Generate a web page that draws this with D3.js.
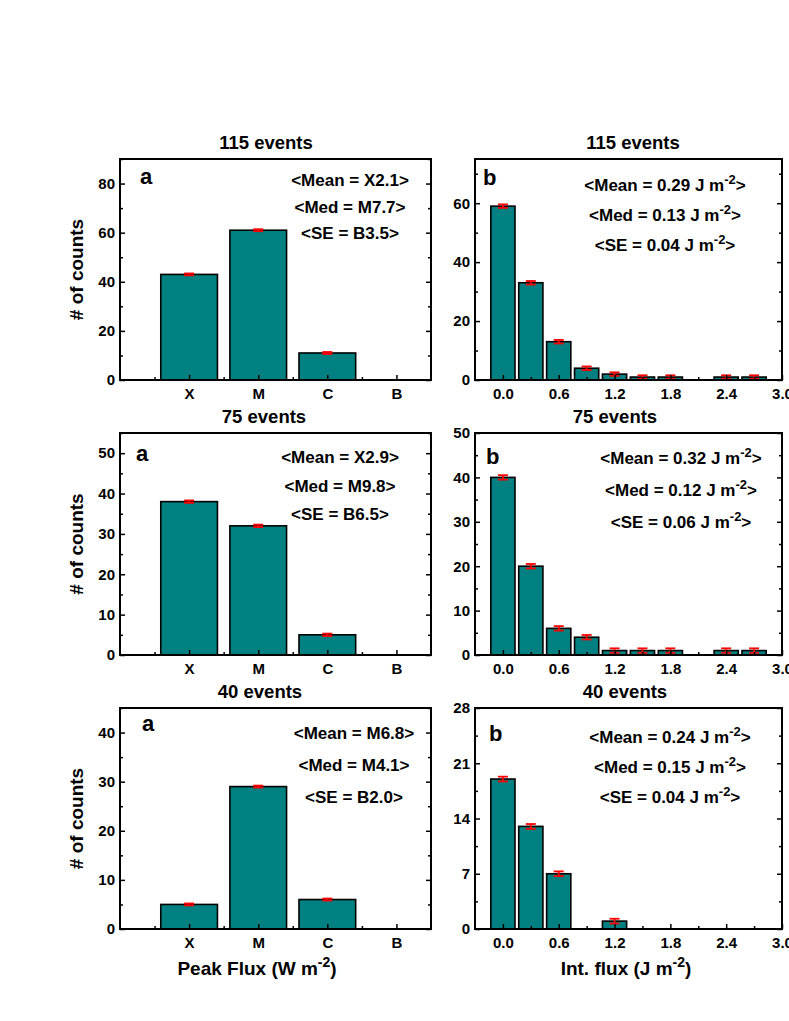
<!DOCTYPE html>
<html>
<head>
<meta charset="utf-8">
<script src="https://cdn.jsdelivr.net/npm/d3@7"></script>
<style>
  body { margin: 0; background: #fff; }
  text { font-family: "Liberation Sans", Arial, sans-serif; font-weight: bold; fill: #000; }
</style>
</head>
<body>
<svg id="chart" width="789" height="1021"></svg>
<script>
'use strict';

// ---- data ----
const eventLabels = ['115 events', '75 events', '40 events'];

const peakCats = ['X', 'M', 'C', 'B'];
const peak115 = [43, 61, 11, 0];
const peak75 = [38, 32, 5, 0];
const peak40 = [5, 29, 6, 0];
const peakErr115 = [0.4, 0.4, 0.4, 0];
const peakErr75 = [0.3, 0.3, 0.3, 0];
const peakErr40 = [0.2, 0.2, 0.2, 0];
const peakMax = [90, 55, 45];
const peakStep = [20, 10, 10];
const peakStats = [
  ['X2.1', 'M7.7', 'B3.5'],
  ['X2.9', 'M9.8', 'B6.5'],
  ['M6.8', 'M4.1', 'B2.0'],
];

const intBins = [0.0, 0.3, 0.6, 0.9, 1.2, 1.5, 1.8, 2.1, 2.4, 2.7];
const int115 = [59, 33, 13, 4, 2, 1, 1, 0, 1, 1];
const int75 = [40, 20, 6, 4, 1, 1, 1, 0, 1, 1];
const int40 = [19, 13, 7, 0, 1, 0, 0, 0, 0, 0];
const intErr115 = [0.6, 0.6, 0.6, 0.6, 0.6, 0.6, 0.6, 0, 0.6, 0.6];
const intErr75 = [0.5, 0.5, 0.5, 0.5, 0.5, 0.5, 0.5, 0, 0.5, 0.5];
const intErr40 = [0.3, 0.3, 0.3, 0, 0.3, 0, 0, 0, 0, 0];
const intMax = [75, 50, 28];
const intStep = [20, 10, 7];
const intTicks = [0.0, 0.6, 1.2, 1.8, 2.4, 3.0];
const intMinor = [0.3, 0.9, 1.5, 2.1, 2.7];
const intStats = [
  ['0.29', '0.13', '0.04'],
  ['0.32', '0.12', '0.06'],
  ['0.24', '0.15', '0.04'],
];

// ---- layout ----
const rows = [
  { top: 159, bottom: 380 },
  { top: 433, bottom: 655 },
  { top: 708, bottom: 929 },
];
const cols = [
  { left: 120, right: 431 },
  { left: 475, right: 782 },
];
const leftTitleX = [266, 264, 260];
const rightTitleX = [633, 615, 625];
const leftAnn = [
  { x: 350, y: 186, dy: 26.5 },
  { x: 340, y: 463, dy: 28.5 },
  { x: 354, y: 739, dy: 32 },
];
const rightAnn = [
  { x: 665, y: 191, dy: 30 },
  { x: 681, y: 464, dy: 32 },
  { x: 670, y: 743, dy: 30 },
];
const letterPos = [
  [{ x: 140, y: 184 }, { x: 483, y: 185 }],
  [{ x: 136, y: 461 }, { x: 486, y: 464 }],
  [{ x: 142, y: 731 }, { x: 489, y: 741 }],
];

const teal = '#008080';
const svg = d3.select('#chart');

svg.append('rect').attr('width', 789).attr('height', 1021).attr('fill', '#fff');

function halfSteps(max, step) {
  const out = [];
  for (let v = step / 2; v <= max + 1e-9; v += step) out.push(v);
  return out;
}

function styleAxis(g) {
  g.select('.domain').remove();
  g.selectAll('line').attr('stroke', '#000').attr('stroke-width', 1.5);
  g.selectAll('text')
    .style('font-size', '15px')
    .style('font-family', '"Liberation Sans", Arial, sans-serif')
    .style('font-weight', 'bold');
}

function drawPanel(conf) {
  const { col, row, x, y, bars, errs, barWidth } = conf;
  const g = svg.append('g');

  // bars
  g.selectAll('.bar')
    .data(bars.filter(d => d.v > 0))
    .enter()
    .append('rect')
    .attr('class', 'bar')
    .attr('x', d => x(d.k) - (x(barWidth) - x(0)) / 2)
    .attr('width', x(barWidth) - x(0))
    .attr('y', d => y(d.v))
    .attr('height', d => y(0) - y(d.v))
    .attr('fill', teal)
    .attr('stroke', '#000')
    .attr('stroke-width', 1.6);

  // error bars
  const eb = g.selectAll('.err')
    .data(bars.map((d, i) => ({ ...d, e: errs[i] })).filter(d => d.v > 0 && d.e > 0))
    .enter()
    .append('g')
    .attr('class', 'err')
    .attr('stroke', '#ff0000')
    .attr('stroke-width', 1.8);
  eb.append('line')
    .attr('x1', d => x(d.k)).attr('x2', d => x(d.k))
    .attr('y1', d => y(d.v - d.e)).attr('y2', d => y(d.v + d.e));
  [-1, 1].forEach(s => {
    eb.append('line')
      .attr('x1', d => x(d.k) - 5).attr('x2', d => x(d.k) + 5)
      .attr('y1', d => y(d.v + s * d.e)).attr('y2', d => y(d.v + s * d.e));
  });

  // axes
  const bottom = g.append('g').attr('transform', `translate(0,${row.bottom})`);
  bottom.append('g')
    .call(d3.axisBottom(x).tickValues(conf.xTicks).tickFormat(conf.xFormat).tickSize(-5).tickPadding(8))
    .call(styleAxis);
  bottom.append('g')
    .call(d3.axisBottom(x).tickValues(conf.xMinor).tickFormat('').tickSize(-3))
    .call(styleAxis);

  const left = g.append('g').attr('transform', `translate(${col.left},0)`);
  left.append('g')
    .call(d3.axisLeft(y).tickValues(conf.yTicks).tickFormat(d3.format('d')).tickSize(-5).tickPadding(5))
    .call(styleAxis);
  left.append('g')
    .call(d3.axisLeft(y).tickValues(conf.yMinor).tickFormat('').tickSize(-3))
    .call(styleAxis);

  const right = g.append('g').attr('transform', `translate(${col.right},0)`);
  right.append('g')
    .call(d3.axisRight(y).tickValues(conf.yTicks).tickFormat('').tickSize(-5))
    .call(styleAxis);
  right.append('g')
    .call(d3.axisRight(y).tickValues(conf.yMinor).tickFormat('').tickSize(-3))
    .call(styleAxis);

  // frame
  g.append('rect')
    .attr('x', col.left)
    .attr('y', row.top)
    .attr('width', col.right - col.left)
    .attr('height', row.bottom - row.top)
    .attr('fill', 'none')
    .attr('stroke', '#000')
    .attr('stroke-width', 2);

  // title
  g.append('text')
    .attr('x', conf.titleX)
    .attr('y', row.top - 10)
    .attr('text-anchor', 'middle')
    .style('font-size', '18.5px')
    .text(conf.title);

  // panel letter
  g.append('text')
    .attr('x', conf.letter.x)
    .attr('y', conf.letter.y)
    .style('font-size', '22px')
    .text(conf.letterText);

  // stats annotation
  conf.lines.forEach((ln, i) => {
    const t = g.append('text')
      .attr('x', conf.ann.x)
      .attr('y', conf.ann.y + i * conf.ann.dy)
      .attr('text-anchor', 'middle')
      .style('font-size', '17px');
    t.append('tspan').text(ln.pre);
    if (ln.sup) {
      t.append('tspan').attr('dy', -7).style('font-size', '13px').text(ln.sup);
      t.append('tspan').attr('dy', 7).text(ln.post);
    } else {
      t.append('tspan').text(ln.post);
    }
  });
}

const peakSeries = [peak115, peak75, peak40];
const peakErrs = [peakErr115, peakErr75, peakErr40];
const intSeries = [int115, int75, int40];
const intErrs = [intErr115, intErr75, intErr40];
const statNames = ['Mean', 'Med', 'SE'];

rows.forEach((row, r) => {
  // left: peak flux class
  const colL = cols[0];
  const xL = d3.scaleLinear().domain([0, 4.5]).range([colL.left, colL.right]);
  const yL = d3.scaleLinear().domain([0, peakMax[r]]).range([row.bottom, row.top]);
  drawPanel({
    col: colL, row, x: xL, y: yL,
    bars: peakCats.map((c, i) => ({ k: i + 1, v: peakSeries[r][i] })),
    errs: peakErrs[r],
    barWidth: 0.82,
    xTicks: peakCats.map((c, i) => i + 1),
    xFormat: d => peakCats[d - 1],
    xMinor: [0.5, 1.5, 2.5, 3.5],
    yTicks: d3.range(0, peakMax[r] + 1e-9, peakStep[r]),
    yMinor: halfSteps(peakMax[r], peakStep[r]),
    title: eventLabels[r],
    titleX: leftTitleX[r],
    letter: letterPos[r][0],
    letterText: 'a',
    ann: leftAnn[r],
    lines: peakStats[r].map((s, i) => ({ pre: `<${statNames[i]} = ${s}`, post: '>' })),
  });

  // right: integrated flux histogram
  const colR = cols[1];
  const xR = d3.scaleLinear().domain([-0.3, 3.0]).range([colR.left, colR.right]);
  const yR = d3.scaleLinear().domain([0, intMax[r]]).range([row.bottom, row.top]);
  drawPanel({
    col: colR, row, x: xR, y: yR,
    bars: intBins.map((b, i) => ({ k: b, v: intSeries[r][i] })),
    errs: intErrs[r],
    barWidth: 0.26,
    xTicks: intTicks,
    xFormat: d3.format('.1f'),
    xMinor: intMinor,
    yTicks: d3.range(0, intMax[r] + 1e-9, intStep[r]),
    yMinor: halfSteps(intMax[r], intStep[r]),
    title: eventLabels[r],
    titleX: rightTitleX[r],
    letter: letterPos[r][1],
    letterText: 'b',
    ann: rightAnn[r],
    lines: intStats[r].map((s, i) => ({ pre: `<${statNames[i]} = ${s} J m`, sup: '-2', post: '>' })),
  });

  // y axis label
  svg.append('text')
    .attr('transform', `translate(83,${(row.top + row.bottom) / 2}) rotate(-90)`)
    .attr('text-anchor', 'middle')
    .style('font-size', '19px')
    .text('# of counts');
});

// x axis labels
function axisLabel(x, pre) {
  const t = svg.append('text')
    .attr('x', x)
    .attr('y', 975)
    .attr('text-anchor', 'middle')
    .style('font-size', '19px');
  t.append('tspan').text(pre);
  t.append('tspan').attr('dy', -8).style('font-size', '14px').text('-2');
  t.append('tspan').attr('dy', 8).text(')');
}
axisLabel(257, 'Peak Flux (W m');
axisLabel(626, 'Int. flux (J m');
</script>
</body>
</html>
